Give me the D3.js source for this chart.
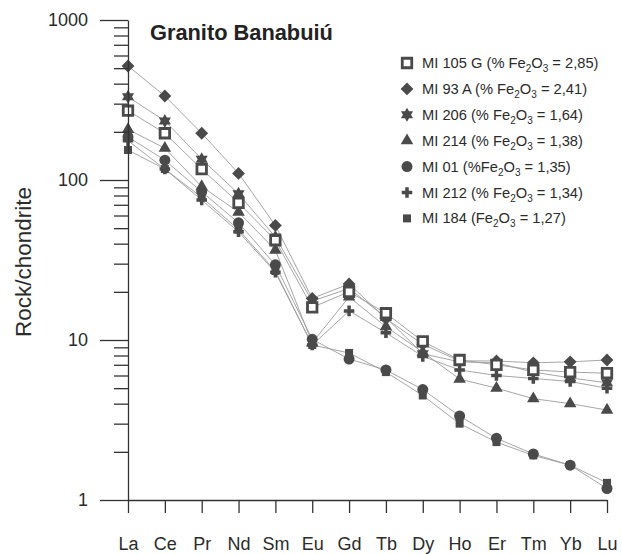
<!DOCTYPE html>
<html>
<head>
<meta charset="utf-8">
<script src="https://cdn.jsdelivr.net/npm/d3@7"></script>
<style>
  body { margin: 0; background: #fff; }
  svg { display: block; font-family: "Liberation Sans", Arial, sans-serif; }
</style>
</head>
<body>
<div id="chart"></div>
<script>
// REE elements on the x axis
const elements = ["La", "Ce", "Pr", "Nd", "Sm", "Eu", "Gd", "Tb", "Dy", "Ho", "Er", "Tm", "Yb", "Lu"];

// Rock/chondrite values
const mi105g = [271, 196, 117, 72, 42, 16, 20, 14.7, 9.8, 7.5, 7.0, 6.5, 6.3, 6.2];
const mi93a = [516, 335, 196, 110, 52, 18.2, 22.4, 13.6, 9.4, 7.4, 7.4, 7.2, 7.3, 7.5];
const mi206 = [331, 234, 135, 82, 44, 17.5, 21, 13.8, 8.2, 7.3, 7.2, 6.3, 5.8, 5.4];
const mi214 = [207, 158, 91, 63, 36.5, 9.6, 18.6, 12.1, 8.4, 5.7, 5.0, 4.3, 4.0, 3.65];
const mi01 = [186, 133, 84.5, 54, 29.5, 10.1, 7.6, 6.5, 4.9, 3.35, 2.43, 1.94, 1.65, 1.18];
const mi212 = [176, 117, 75, 47.5, 26.5, 9.3, 15.2, 11.1, 7.9, 6.5, 6.0, 5.75, 5.5, 5.0];
const mi184 = [154, 117, 78, 49, 27, 9.3, 8.3, 6.3, 4.5, 3.0, 2.3, 1.9, 1.65, 1.28];

// legend labels: [before subscript part, Fe2O3 value]
const sampleNames = ["MI 105 G (% ", "MI 93 A (% ", "MI 206 (% ", "MI 214 (% ", "MI 01 (%", "MI 212 (% ", "MI 184 ("];
const fe2o3 = ["2,85", "2,41", "1,64", "1,38", "1,35", "1,34", "1,27"];
const yTickLabels = [1, 10, 100, 1000];

const width = 622,
  height = 554;
const margin = { top: 20, right: 15, bottom: 54, left: 128 };
const markColor = "#4a4a4a";
const inkColor = "#2b2b2b";

// six pointed star
const symbolHexagram = {
  draw(context, size) {
    const R = Math.sqrt(size) * 0.7;
    const r = R / Math.sqrt(3);
    for (let i = 0; i < 12; i++) {
      const a = (i * Math.PI) / 6 - Math.PI / 2;
      const rr = i % 2 === 0 ? R : r;
      if (i === 0) context.moveTo(rr * Math.cos(a), rr * Math.sin(a));
      else context.lineTo(rr * Math.cos(a), rr * Math.sin(a));
    }
    context.closePath();
  },
};

const series = [
  { values: mi105g, type: d3.symbolSquare, size: 90, open: true },
  { values: mi93a, type: d3.symbolDiamond2, size: 105 },
  { values: mi206, type: symbolHexagram, size: 100 },
  { values: mi214, type: d3.symbolTriangle, size: 68 },
  { values: mi01, type: d3.symbolCircle, size: 95 },
  { values: mi212, type: d3.symbolCross, size: 62 },
  { values: mi184, type: d3.symbolSquare, size: 64 },
];

const svg = d3
  .select("#chart")
  .append("svg")
  .attr("width", width)
  .attr("height", height);

const xScale = d3.scalePoint(elements, [margin.left, width - margin.right]);
const yScale = d3.scaleLog([1, 1000], [height - margin.bottom, margin.top]);

/* connecting lines */
const line = d3
  .line()
  .x((d, i) => xScale(elements[i]))
  .y((d) => yScale(d));

svg
  .append("g")
  .selectAll("path")
  .data(series)
  .join("path")
  .attr("d", (s) => line(s.values))
  .attr("fill", "none")
  .attr("stroke", "#9c9c9c")
  .attr("stroke-width", 0.9);

/* markers, last legend item drawn first */
const marks = svg.append("g");
series
  .slice()
  .reverse()
  .forEach((s) => {
    marks
      .append("g")
      .selectAll("path")
      .data(s.values)
      .join("path")
      .attr("transform", (d, i) => `translate(${xScale(elements[i])},${yScale(d)})`)
      .attr("d", d3.symbol(s.type, s.size))
      .attr("fill", s.open ? "#fff" : markColor)
      .attr("stroke", s.open ? markColor : "none")
      .attr("stroke-width", s.open ? 2.8 : 0);
  });

/* y axis: log ticks, long ones at powers of ten */
const yAxis = d3
  .axisLeft(yScale)
  .tickValues(yScale.ticks())
  .tickSizeInner(14)
  .tickSizeOuter(0)
  .tickPadding(26)
  .tickFormat((d) => (yTickLabels.includes(d) ? d : ""));

const yGroup = svg
  .append("g")
  .attr("transform", `translate(${margin.left},0)`)
  .call(yAxis);

yGroup
  .selectAll(".tick line")
  .attr("x2", (d) => (yTickLabels.includes(d) ? -28 : -14));

/* x axis */
const xAxis = d3.axisBottom(xScale).tickSizeInner(13).tickSizeOuter(0).tickPadding(24);

const xGroup = svg
  .append("g")
  .attr("transform", `translate(0,${height - margin.bottom})`)
  .call(xAxis);

[yGroup, xGroup].forEach((g) => {
  g.selectAll("path, line").attr("stroke", "#333").attr("stroke-width", 1.3);
  g.selectAll("text")
    .attr("fill", inkColor)
    .style("font-size", "18px")
    .style("font-family", "'Liberation Sans', Arial, sans-serif");
});

/* axis title */
svg
  .append("text")
  .attr("transform", `translate(31,${(margin.top + height - margin.bottom) / 2 + 2}) rotate(-90)`)
  .attr("text-anchor", "middle")
  .attr("fill", inkColor)
  .style("font-size", "22.5px")
  .text("Rock/chondrite");

/* chart title */
svg
  .append("text")
  .attr("x", 150)
  .attr("y", 40)
  .attr("fill", "#222")
  .style("font-size", "21.8px")
  .style("font-weight", "bold")
  .text("Granito Banabuiú");

/* legend */
const legend = svg.append("g").attr("transform", "translate(407,63)");
const rowGap = 25.9;

series.forEach((s, i) => {
  const row = legend.append("g").attr("transform", `translate(0,${i * rowGap})`);
  row
    .append("path")
    .attr("d", d3.symbol(s.type, s.size))
    .attr("fill", s.open ? "#fff" : markColor)
    .attr("stroke", s.open ? markColor : "none")
    .attr("stroke-width", s.open ? 2.8 : 0);

  const label = row
    .append("text")
    .attr("x", 15)
    .attr("y", 5)
    .attr("fill", inkColor)
    .style("font-size", "14.7px");
  label.append("tspan").text(sampleNames[i] + "Fe");
  label.append("tspan").attr("dy", 4).style("font-size", "10px").text("2");
  label.append("tspan").attr("dy", -4).text("O");
  label.append("tspan").attr("dy", 4).style("font-size", "10px").text("3");
  label.append("tspan").attr("dy", -4).text(" = " + fe2o3[i] + ")");
});
</script>
</body>
</html>
